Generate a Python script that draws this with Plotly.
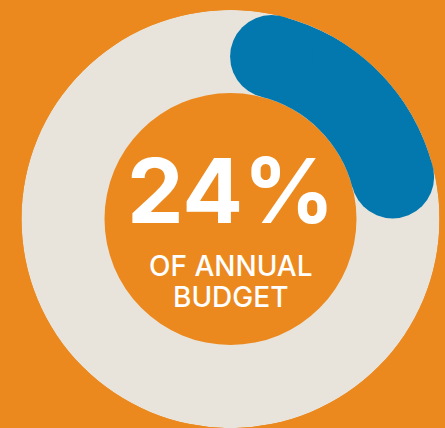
import math
import plotly.graph_objects as go

# ---- data ----
share_pct = [24]                 # value shown as the headline
arc_share = [0.249]              # share of the circle covered by the blue arc (incl. round caps)
headline = ["24%"]
subtitle_lines = ["OF ANNUAL", "BUDGET"]

# ---- style / geometry (pixels) ----
W, H = 445, 428
CX = 230.5            # ring centre x (px from left)
R_OUT = 209.0         # outer radius of ring (px)
R_IN = 126.0          # inner radius of ring (px)
TOP = 10.0            # ring top (px from top)
ORANGE = "#EC891E"
BLUE = "#0278AE"
BEIGE = "#E8E4DC"

thick = R_OUT - R_IN
r_mid = (R_OUT + R_IN) / 2
cap_deg = math.degrees((thick / 2) / r_mid)      # angular half-size of round cap
span = arc_share[0] * 360                          # total extent incl. caps
a0, a1 = cap_deg, span - cap_deg                  # cap centres

fig = go.Figure()
# background ring
fig.add_trace(go.Barpolar(r=[thick], base=[R_IN], theta=[180], width=[360],
                          marker=dict(color=BEIGE, line=dict(width=0)),
                          hoverinfo="skip", showlegend=False))
# highlighted arc body
fig.add_trace(go.Barpolar(r=[thick], base=[R_IN], theta=[(a0 + a1) / 2], width=[a1 - a0],
                          marker=dict(color=BLUE, line=dict(width=0)),
                          hoverinfo="skip", showlegend=False))
# rounded caps
fig.add_trace(go.Scatterpolar(r=[r_mid, r_mid], theta=[a0, a1], mode="markers",
                              marker=dict(size=thick, color=BLUE, line=dict(width=0)),
                              cliponaxis=False, hoverinfo="skip", showlegend=False))

D = 2 * R_OUT
fig.update_layout(
    width=W, height=H,
    margin=dict(l=0, r=0, t=0, b=0),
    paper_bgcolor=ORANGE,
    plot_bgcolor=ORANGE,
    showlegend=False,
    polar=dict(
        domain=dict(x=[(CX - R_OUT) / W, (CX + R_OUT) / W],
                    y=[1 - (TOP + D) / H, 1 - TOP / H]),
        bgcolor=ORANGE,
        radialaxis=dict(range=[0, R_OUT], visible=False, showgrid=False),
        angularaxis=dict(direction="clockwise", rotation=90, visible=False, showgrid=False),
    ),
    annotations=[
        dict(text=headline[0], x=CX / W, y=1 - 190 / H, xref="paper", yref="paper",
             xanchor="center", yanchor="middle", showarrow=False,
             font=dict(family="Inter", size=90, color="white", weight=700)),
        dict(text=subtitle_lines[0], x=CX / W, y=1 - 266 / H, xref="paper", yref="paper",
             xanchor="center", yanchor="middle", showarrow=False,
             font=dict(family="Inter", size=28, color="white", weight=500)),
        dict(text=subtitle_lines[1], x=CX / W, y=1 - 297 / H, xref="paper", yref="paper",
             xanchor="center", yanchor="middle", showarrow=False,
             font=dict(family="Inter", size=28, color="white", weight=500)),
    ],
)

fig.write_html("out.html", config={"displayModeBar": False},
               post_script="document.body.style.margin='0';document.body.style.padding='0';")
